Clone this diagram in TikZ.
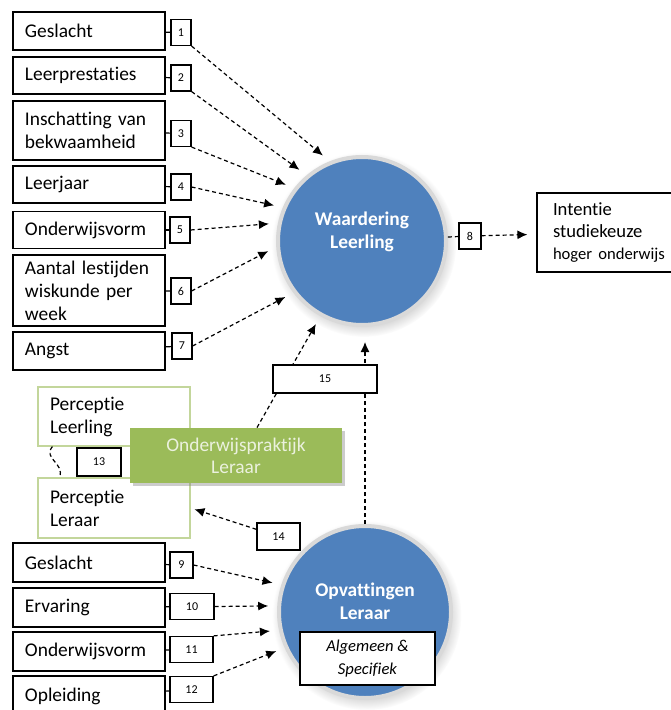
\documentclass[tikz,border=0pt]{standalone}
\usepackage{fontspec}
\setmainfont{Carlito}[Ligatures=NoCommon]
\usepackage{tikz}
\usetikzlibrary{calc}
\usetikzlibrary{arrows.meta}
\usetikzlibrary{shadows}
\definecolor{wblue}{HTML}{4F81BD}
\definecolor{wgreen}{HTML}{9BBB59}
\definecolor{wolive}{HTML}{C3D69B}
\definecolor{wlight}{HTML}{EBF1DE}
\tikzset{
   factor/.style={draw, line width=0.6pt, fill=white, minimum width=76pt,
      text width=64pt, inner xsep=6pt, inner ysep=0pt, align=left,
      font=\fontsize{9.7}{11.5}\selectfont},
   perception/.style={factor, draw=wolive},
   weight/.style={draw, line width=0.6pt, fill=white, minimum width=10pt,
      minimum height=13pt, inner sep=0pt, font=\fontsize{6}{7}\selectfont},
   construct/.style={circle, fill=wblue, draw=white!85!black, line width=2pt,
      circular drop shadow={shadow xshift=0.8pt, shadow yshift=-1.6pt, opacity=0.35}},
   ctext/.style={text=white, align=center, font=\bfseries\fontsize{9.7}{11.5}\selectfont},
   practice/.style={fill=wgreen, text=wlight, minimum width=106pt, minimum height=27.5pt,
      align=center, font=\fontsize{9.7}{11}\selectfont,
      drop shadow={shadow xshift=1.5pt, shadow yshift=-1.5pt, opacity=0.4}},
   link/.style={line width=0.6pt, dash pattern=on 2pt off 1.5pt},
   effect/.style={link, -{Latex[length=5pt,width=4.5pt]}, shorten >=4.5pt},
   }
\begin{document}
\begin{tikzpicture}[x=0.5pt, y=-0.5pt]
\useasboundingbox (0,0) rectangle (670,710);
\node[construct, minimum size=84pt] (wl) at (362,241) {};
\node[ctext] (wltext) at (362,232) {Waardering\\Leerling};
\node[construct, minimum size=86pt] (ol) at (365,612) {};
\node[ctext] (oltext) at (365,601) {Opvattingen\\Leraar};
\node[draw, line width=0.6pt, fill=white, minimum width=67.5pt, minimum height=26.5pt,
   align=center, font=\itshape\fontsize{8.3}{11.5}\selectfont] (alg) at (367.5,658.5)
   {Algemeen \&\\Specifiek};

\node[factor, minimum height=19pt] (gesl) at (89,31) {Geslacht};
\node[factor, minimum height=18.5pt] (prest) at (89,75.5) {Leerprestaties};
\node[factor, minimum height=29.5pt] (insch) at (89,130.5) {Inschatting van\\bekwaamheid};
\node[factor, minimum height=18.5pt] (jaar) at (89,184.5) {Leerjaar};
\node[factor, minimum height=18.5pt] (vorm) at (89,230) {Onderwijsvorm};
\node[factor, minimum height=35.5pt] (lest) at (89,290.5) {Aantal lestijden\\wiskunde per\\week};
\node[factor, minimum height=19pt] (angst) at (89,351) {Angst};
\node[weight] (w1) at (181,32.5) {1};
\node[weight] (w2) at (181,78) {2};
\node[weight] (w3) at (181,133.5) {3};
\node[weight] (w4) at (181,187) {4};
\node[weight] (w5) at (180,230) {5};
\node[weight] (w6) at (181,291) {6};
\node[weight] (w7) at (182,346) {7};
\draw[line width=0.6pt] (gesl) -- (w1);
\draw[line width=0.6pt] (prest) -- (w2);
\draw[line width=0.6pt] (insch) -- (w3);
\draw[line width=0.6pt] (jaar) -- (w4);
\draw[line width=0.6pt] (vorm) -- (w5);
\draw[line width=0.6pt] (lest) -- (w6);
\draw[line width=0.6pt] (angst) -- (w7);
\draw[effect] (w1.south east) -- (wl.112);
\draw[effect] (w2.south east) -- (wl.130);
\draw[effect] (w3.south east) -- (wl.142);
\draw[effect] (w4.east) -- (wl.157);
\draw[effect] (w5.east) -- (wl.168);
\draw[effect] (w6.east) -- (wl.184);
\draw[effect] (w7.east) -- (wl.217);

\node[weight, minimum width=11pt] (w8) at (470,236) {8};
\node[draw, line width=0.6pt, minimum height=39.5pt, text width=57pt, inner xsep=8pt,
   align=left, font=\fontsize{9.3}{11}\selectfont] (intent) at (610,232.5)
   {Intentie\\studiekeuze\\{\fontsize{8.3}{10}\selectfont hoger onderwijs}};
\draw[link] (wl) -- (w8);
\draw[effect] (w8) -- (intent);

\node[perception, minimum height=29.5pt] (plln) at (114,416.5) {Perceptie\\Leerling};
\node[perception, minimum height=30pt] (plrr) at (114,508) {Perceptie\\Leraar};
\node[practice] (prak) at (236,455.5) {Onderwijspraktijk\\Leraar};
\node[weight, minimum width=22pt, minimum height=14pt] (w13) at (99,462) {13};
\draw[link] ([xshift=7.5pt]plln.south west) .. controls +(-5pt,-6pt) and +(3pt,7pt)
   .. ([xshift=11pt]plrr.north west);

\draw[effect] ([xshift=10.5pt]prak.north) -- (wl.241);
\draw[effect, shorten >=7.5pt] (ol.north) -- (ol.north |- wl.south);
\node[weight, minimum width=52pt, minimum height=14pt] (w15) at (325,379) {15};
\node[weight, minimum width=21.5pt, minimum height=13.5pt] (w14) at (278.5,536.5) {14};
\draw[effect, shorten >=2pt] (w14) -- (plrr.east);

\node[factor, minimum height=19.5pt] (gesl2) at (89,562.5) {Geslacht};
\node[factor, minimum height=19.5pt] (erv) at (89,607.5) {Ervaring};
\node[factor, minimum height=19.5pt] (vorm2) at (89,651.5) {Onderwijsvorm};
\node[factor, minimum height=20pt] (opl) at (89,696) {Opleiding};
\node[weight, minimum width=11.5pt] (w9) at (181.5,565) {9};
\node[weight, minimum width=22pt] (w10) at (192,606.5) {10};
\node[weight, minimum width=21.5pt] (w11) at (191.5,649.5) {11};
\node[weight, minimum width=21.5pt] (w12) at (191.5,689.5) {12};
\draw[line width=0.6pt] (gesl2) -- (w9);
\draw[line width=0.6pt] (erv) -- (w10);
\draw[line width=0.6pt] (vorm2) -- (w11);
\draw[line width=0.6pt] (opl) -- (w12);
\draw[effect] (w9.east) -- (ol.162);
\draw[effect] (w10.east) -- (ol.176);
\draw[effect] (w11.north east) -- (ol.192);
\draw[effect] (w12.north east) -- (ol.204);
\end{tikzpicture}
\end{document}
